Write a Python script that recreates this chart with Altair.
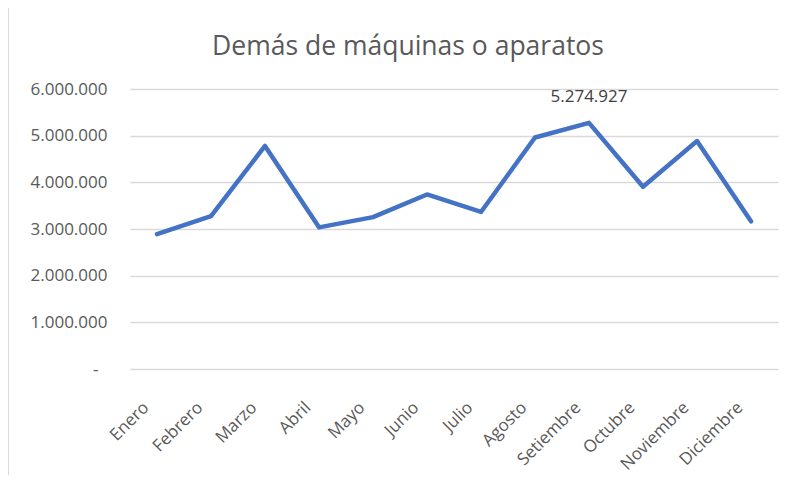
import altair as alt
import pandas as pd

months = ["Enero", "Febrero", "Marzo", "Abril", "Mayo", "Junio", "Julio",
          "Agosto", "Setiembre", "Octubre", "Noviembre", "Diciembre"]
values = [2890000, 3275000, 4780000, 3035000, 3255000, 3740000, 3365000,
          4960000, 5274927, 3905000, 4885000, 3165000]
y_ticks = [0, 1000000, 2000000, 3000000, 4000000, 5000000, 6000000]
title_text = "Demás de máquinas o aparatos"
labeled_month = "Setiembre"

df = pd.DataFrame({"mes": months, "valor": values})
title_df = pd.DataFrame({"t": [title_text]})

x_enc = alt.X("mes:N", sort=months, scale=alt.Scale(type="point", padding=0.5),
              axis=alt.Axis(title=None, labelAngle=-45, labelAlign="right",
                            labelBaseline="top", labelPadding=30, labelOffset=-17,
                            ticks=False, domain=False, grid=False,
                            labelFontSize=17, labelColor="#595959"))
y_enc = alt.Y("valor:Q", scale=alt.Scale(domain=[0, 6000000]),
              axis=alt.Axis(title=None, values=y_ticks, ticks=False, domain=False,
                            grid=True, gridColor="#d9d9d9", gridWidth=1.3,
                            labelPadding={"condition": {"test": "datum.value == 0", "value": 32}, "value": 23},
                            labelFontSize=17, labelColor="#595959",
                            labelExpr="datum.value == 0 ? '-' : replace(format(datum.value, ','), regexp(',', 'g'), '.')"))

line = alt.Chart(df).mark_line(color="#4472C4", strokeWidth=4.5, strokeCap="round",
                               strokeJoin="round").encode(x=x_enc, y=y_enc)

label = alt.Chart(df).transform_filter(
    alt.datum.mes == labeled_month
).transform_calculate(
    txt="replace(format(datum.valor, ','), regexp(',', 'g'), '.')"
).mark_text(fontSize=17, color="#404040", dy=-26, baseline="middle").encode(
    x=alt.X("mes:N", sort=months, scale=alt.Scale(type="point", padding=0.5)),
    y="valor:Q", text="txt:N")

border = alt.Chart(df).mark_rule(color="#d9d9d9", strokeWidth=1.5).encode(
    x=alt.value(-122), y=alt.value(-81), y2=alt.value(393))

title = alt.Chart(title_df).mark_text(fontSize=26.5, color="#595959", align="center",
                                      baseline="alphabetic").encode(
    x=alt.value(278), y=alt.value(-34), text="t:N")

chart = alt.layer(border, line, label, title).properties(
    width=648, height=280,
    autosize=alt.AutoSizeParams(type="none"),
    padding={"left": 122, "top": 81, "right": 3, "bottom": 106},
).configure(font="Open Sans").configure_view(strokeWidth=0)

chart.save("out.html", embed_options={"renderer": "svg", "actions": False})
